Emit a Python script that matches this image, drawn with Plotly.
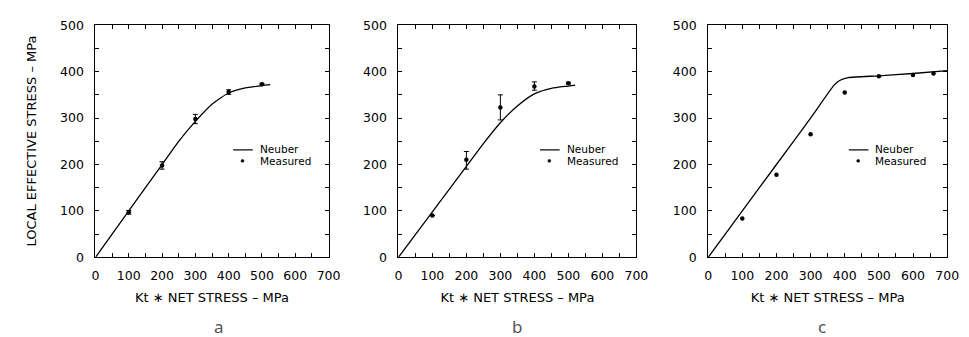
import plotly.graph_objects as go

# ---------------- data ----------------
# Panel a
a_neuber_x = [0, 100, 200, 250, 300, 350, 400, 450, 500, 525]
a_neuber_y = [0, 100, 200, 250, 293, 330, 354, 365, 370, 372]
a_meas_x = [100, 200, 300, 400, 500]
a_meas_y = [97, 198, 298, 356, 373]
a_err_plus = [4, 8, 10, 5, 2]
a_err_minus = [4, 8, 10, 5, 2]

# Panel b
b_neuber_x = [0, 100, 200, 250, 300, 350, 400, 450, 500, 520]
b_neuber_y = [0, 98, 196, 245, 290, 326, 352, 364, 369, 371]
b_meas_x = [100, 200, 300, 400, 500]
b_meas_y = [90, 210, 323, 368, 375]
b_err_plus = [0, 18, 27, 10, 2]
b_err_minus = [0, 20, 27, 8, 2]

# Panel c
c_neuber_x = [0, 100, 200, 300, 370, 385, 410, 500, 600, 700]
c_neuber_y = [0, 100, 200, 300, 372, 381, 387, 391, 396, 402]
c_meas_x = [100, 200, 300, 400, 500, 600, 660]
c_meas_y = [84, 178, 265, 355, 390, 393, 396]

x_ticks = [0, 100, 200, 300, 400, 500, 600, 700]
x_minor = [50, 150, 250, 350, 450, 550, 650]
y_ticks = [0, 100, 200, 300, 400, 500]
y_minor = [50, 150, 250, 350, 450]
panel_labels = ["a", "b", "c"]
legend_labels = ["Neuber", "Measured"]
x_title = "Kt ∗ NET STRESS – MPa"
y_title = "LOCAL EFFECTIVE STRESS – MPa"

# ---------------- figure ----------------
W, H = 969, 337
fig = go.Figure()

font_main = "DejaVu Sans, Liberation Sans, sans-serif"

panels = [
    (a_neuber_x, a_neuber_y, a_meas_x, a_meas_y, a_err_plus, a_err_minus),
    (b_neuber_x, b_neuber_y, b_meas_x, b_meas_y, b_err_plus, b_err_minus),
    (c_neuber_x, c_neuber_y, c_meas_x, c_meas_y, None, None),
]

x_domains = [(93 / W, 330 / W), (401 / W, 643 / W), (716 / W, 959 / W)]
y_domain = (1 - 261 / H, 1 - 18 / H)
# legend line start x (pixels) per panel
legend_x = [233, 545, 859]
legend_y1 = 148.5
legend_y2 = 160

for i, (nx, ny, mx, my, ep, em) in enumerate(panels):
    xa = "x" if i == 0 else f"x{i+1}"
    ya = "y" if i == 0 else f"y{i+1}"
    fig.add_trace(go.Scatter(
        x=nx, y=ny, mode="lines", name=legend_labels[0],
        line=dict(color="black", width=1.3, shape="spline", smoothing=0.6),
        xaxis=xa, yaxis=ya, showlegend=False,
    ))
    err = None
    if ep is not None:
        err = dict(type="data", array=ep, arrayminus=em, color="black",
                   thickness=1, width=2.5, visible=True)
    fig.add_trace(go.Scatter(
        x=mx, y=my, mode="markers", name=legend_labels[1],
        marker=dict(color="black", size=4.5),
        error_y=err,
        xaxis=xa, yaxis=ya, showlegend=False,
    ))

    axis_common = dict(
        showline=True, linecolor="black", linewidth=1, mirror="allticks",
        ticks="inside", ticklen=4, tickcolor="black", tickwidth=1,
        showgrid=False, zeroline=False,
        tickfont=dict(family=font_main, size=12.5, color="black"),
    )
    fig.layout[f"xaxis{'' if i == 0 else i+1}"] = dict(
        domain=list(x_domains[i]), range=[0, 700], tickvals=x_ticks,
        anchor=ya, ticklabelstandoff=7,
        minor=dict(ticks="inside", ticklen=4, tickcolor="black", tickvals=x_minor),
        title=dict(text=x_title, font=dict(family=font_main, size=13, color="black"),
                   standoff=10),
        **axis_common,
    )
    fig.layout[f"yaxis{'' if i == 0 else i+1}"] = dict(
        domain=list(y_domain), range=[0, 500], tickvals=y_ticks,
        anchor=xa, ticklabelstandoff=8,
        minor=dict(ticks="inside", ticklen=4, tickcolor="black", tickvals=y_minor),
        **axis_common,
    )

    # legend drawn manually
    lx = legend_x[i]
    fig.add_shape(type="line", xref="paper", yref="paper",
                  x0=lx / W, x1=(lx + 20) / W,
                  y0=1 - legend_y1 / H, y1=1 - legend_y1 / H,
                  line=dict(color="black", width=1.2))
    fig.add_shape(type="circle", xref="paper", yref="paper",
                  x0=(lx + 8) / W, x1=(lx + 11) / W,
                  y0=1 - (legend_y2 + 1.5) / H, y1=1 - (legend_y2 - 1.5) / H,
                  line=dict(color="black", width=0.5), fillcolor="black")
    for txt, yy in ((legend_labels[0], legend_y1 - 0.5), (legend_labels[1], legend_y2)):
        fig.add_annotation(
            x=(lx + 25) / W, y=1 - yy / H, xref="paper", yref="paper",
            xanchor="left", yanchor="middle", text=txt, showarrow=False,
            font=dict(family=font_main, size=10.5, color="black"),
        )

    cx = (x_domains[i][0] + x_domains[i][1]) / 2
    fig.add_annotation(
        x=cx, y=1 - 333 / H, xref="paper", yref="paper", yanchor="middle",
        text=panel_labels[i], showarrow=False,
        font=dict(family="Noto Sans, DejaVu Sans, sans-serif", size=17, color="#555"),
    )

fig.add_annotation(
    x=18 / W, y=(y_domain[0] + y_domain[1]) / 2, xref="paper", yref="paper",
    text=y_title, showarrow=False, textangle=-90,
    font=dict(family=font_main, size=13, color="black"),
)

fig.update_layout(
    width=W, height=H, margin=dict(l=0, r=0, t=0, b=0),
    paper_bgcolor="white", plot_bgcolor="white",
)

fig.write_html("out.html")
